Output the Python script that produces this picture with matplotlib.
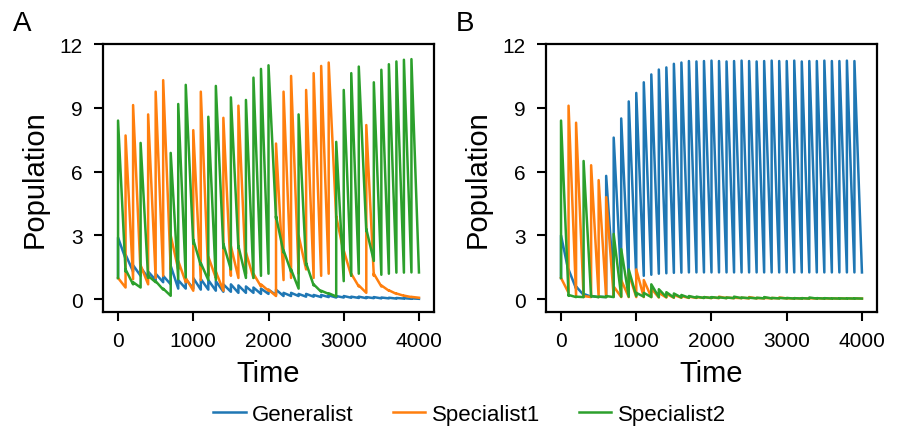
import numpy as np
import matplotlib
matplotlib.use("Agg")
import matplotlib.pyplot as plt

plt.rcParams.update({
    "font.family": ["Liberation Sans", "DejaVu Sans"],
    "axes.linewidth": 1.6,
    "xtick.major.width": 1.5,
    "ytick.major.width": 1.5,
    "xtick.major.size": 6.5,
    "ytick.major.size": 6.5,
    "xtick.major.pad": 7,
    "ytick.major.pad": 8,
    "xtick.labelsize": 15,
    "ytick.labelsize": 15,
    "axes.labelsize": 21,
})

# one transfer every 100 time units; each cycle: value before jump, value after jump
CYCLE_T = np.arange(0, 4001, 100)
COLORS = {"Generalist": "#1f77b4", "Specialist1": "#ff7f0e", "Specialist2": "#2ca02c"}

# ---- panel A ----
A_GEN_START = [1.0, 1.9, 1.3, 1.1, 1.0, 0.9, 0.8, 0.7, 0.5, 0.5, 0.5, 0.45, 0.45, 0.4,
               0.35, 0.35, 0.3, 0.3, 0.3, 0.25, 0.25, 0.2, 0.15, 0.15, 0.15, 0.12, 0.12,
               0.1, 0.1, 0.08, 0.08, 0.07, 0.06, 0.05, 0.05, 0.04, 0.04, 0.03, 0.03, 0.02, 0.02]
A_GEN_PEAK = [2.9, 2.1, 1.6, 1.5, 1.3, 1.2, 1.1, 1.57, 0.9, 0.95, 1.0, 0.95, 0.9, 0.85,
              0.7, 0.7, 0.65, 0.6, 0.55, 0.5, 0.45, 0.45, 0.3, 0.3, 0.25, 0.25, 0.2,
              0.2, 0.18, 0.15, 0.15, 0.12, 0.12, 0.1, 0.1, 0.08, 0.07, 0.06, 0.05, 0.04, 0.02]
A_SP1_START = [1.0, 0.55, 0.94, 1.2, 0.7, 1.0, 1.1, 1.4, 1.4, 0.8, 0.4, 0.9, 1.1, 1.0,
               0.4, 1.1, 1.0, 1.2, 1.0, 0.6, 0.4, 0.15, 0.9, 1.0, 1.2, 1.4, 1.0,
               1.1, 1.2, 3.8, 2.2, 1.1, 0.6, 0.3, 1.1, 0.6, 0.4, 0.25, 0.16, 0.1, 0.07]
A_SP1_PEAK = [1.0, 7.7, 9.13, 1.6, 8.69, 9.76, 10.3, 3.0, 1.8, 1.0, 7.95, 9.76, 2.0, 1.3,
              8.53, 2.5, 9.1, 2.2, 1.2, 0.7, 0.45, 7.32, 9.76, 10.5, 3.0, 9.84, 10.63,
              10.97, 11.13, 3.9, 2.3, 1.2, 0.65, 8.19, 1.2, 0.65, 0.42, 0.27, 0.17, 0.11, 0.07]
A_SP2_START = [1.0, 1.3, 0.7, 0.55, 1.0, 0.8, 0.45, 0.16, 0.94, 1.02, 2.6, 1.6, 0.9, 0.9,
               2.4, 1.4, 2.4, 1.0, 1.0, 1.1, 1.2, 3.8, 2.2, 1.3, 0.5, 1.6, 0.65,
               0.35, 0.25, 0.13, 0.85, 1.1, 1.2, 3.2, 1.8, 1.15, 1.2, 1.25, 1.25, 1.26, 1.26]
A_SP2_PEAK = [8.4, 1.4, 0.8, 7.35, 1.1, 0.85, 0.5, 6.88, 9.18, 10.08, 2.8, 1.7, 8.58, 10.03,
              2.6, 9.49, 2.5, 9.37, 10.42, 10.83, 11.0, 3.9, 2.3, 1.4, 8.69, 1.7, 0.7,
              0.4, 0.28, 7.4, 9.84, 10.63, 10.94, 3.3, 10.2, 10.79, 11.05, 11.18, 11.26, 11.29, 1.26]

# ---- panel B ----
B_GEN_START = [1.0, 1.3, 0.5, 0.2, 0.12, 0.1, 0.1, 0.7, 0.85, 0.95, 1.05, 1.1, 1.15, 1.2,
               1.22, 1.24, 1.25, 1.26, 1.26, 1.26, 1.26, 1.26, 1.26, 1.26, 1.26, 1.26, 1.26,
               1.26, 1.26, 1.26, 1.26, 1.26, 1.26, 1.26, 1.26, 1.26, 1.26, 1.26, 1.26, 1.26, 1.26]
B_GEN_PEAK = [3.0, 1.4, 0.6, 0.25, 0.15, 0.12, 5.8, 7.6, 8.5, 9.3, 9.7, 10.2, 10.57, 10.8,
              10.9, 11.07, 11.13, 11.2, 11.18, 11.2, 11.22, 11.2, 11.18, 11.2, 11.22, 11.2, 11.18,
              11.2, 11.22, 11.2, 11.2, 11.22, 11.18, 11.2, 11.2, 11.22, 11.2, 11.2, 11.22, 11.2, 1.26]
B_SP1_START = [1.0, 0.3, 0.15, 0.1, 0.1, 0.1, 0.1, 0.12, 0.1, 0.1, 0.1, 0.1, 0.1, 0.08,
               0.08, 0.07, 0.07, 0.06, 0.06, 0.06, 0.05, 0.05, 0.05, 0.05, 0.05, 0.04, 0.04,
               0.04, 0.04, 0.04, 0.04, 0.03, 0.03, 0.03, 0.03, 0.03, 0.03, 0.03, 0.03, 0.03, 0.03]
B_SP1_PEAK = [1.0, 9.1, 8.3, 0.15, 6.3, 5.6, 4.8, 0.6, 0.9, 1.2, 1.4, 0.9, 0.5, 0.3,
              0.25, 0.2, 0.15, 0.12, 0.1, 0.1, 0.09, 0.12, 0.08, 0.07, 0.07, 0.1, 0.06,
              0.06, 0.06, 0.08, 0.05, 0.05, 0.05, 0.05, 0.05, 0.04, 0.04, 0.04, 0.04, 0.04, 0.03]
B_SP2_START = [1.0, 0.16, 0.1, 0.1, 0.12, 0.1, 0.1, 0.1, 0.12, 0.12, 0.15, 0.12, 0.1, 0.1,
               0.1, 0.08, 0.08, 0.07, 0.07, 0.06, 0.06, 0.06, 0.05, 0.05, 0.05, 0.05, 0.04,
               0.04, 0.04, 0.04, 0.04, 0.03, 0.03, 0.03, 0.03, 0.03, 0.03, 0.03, 0.03, 0.03, 0.03]
B_SP2_PEAK = [8.4, 0.2, 0.12, 6.5, 0.15, 0.12, 0.15, 3.07, 2.36, 1.4, 0.3, 0.3, 0.7, 0.47,
              0.33, 0.27, 0.2, 0.15, 0.12, 0.1, 0.1, 0.09, 0.08, 0.12, 0.08, 0.07, 0.07,
              0.1, 0.06, 0.06, 0.06, 0.05, 0.05, 0.08, 0.05, 0.05, 0.04, 0.04, 0.04, 0.04, 0.03]

PANELS = [
    ("A", {"Generalist": (A_GEN_START, A_GEN_PEAK),
           "Specialist1": (A_SP1_START, A_SP1_PEAK),
           "Specialist2": (A_SP2_START, A_SP2_PEAK)}),
    ("B", {"Generalist": (B_GEN_START, B_GEN_PEAK),
           "Specialist1": (B_SP1_START, B_SP1_PEAK),
           "Specialist2": (B_SP2_START, B_SP2_PEAK)}),
]


def trace(start, peak):
    # jump at each transfer time, then decline until the next transfer
    t, y = [], []
    for k, tk in enumerate(CYCLE_T):
        t += [tk, tk]
        y += [start[k], peak[k]]
    return np.array(t), np.array(y)


fig = plt.figure(figsize=(8.98, 4.35), dpi=100)
ax_pos = [[0.1147, 0.2805, 0.3686, 0.616], [0.608, 0.2805, 0.3686, 0.616]]

for (letter, series), pos in zip(PANELS, ax_pos):
    ax = fig.add_axes(pos)
    for name, (st, pk) in series.items():
        t, y = trace(st, pk)
        ax.plot(t, y, color=COLORS[name], linewidth=1.8, label=name)
    ax.set_xlim(-200, 4200)
    ax.set_ylim(-0.6, 12)
    ax.set_xticks([0, 1000, 2000, 3000, 4000])
    ax.set_yticks([0, 3, 6, 9, 12])
    ax.set_xlabel("Time", labelpad=7)
    ax.set_ylabel("Population", labelpad=8)
    fig.text(pos[0] - 0.1, 0.945, letter, fontsize=20, ha="left", va="center")

handles, labels = ax.get_legend_handles_labels()
fig.legend(handles, labels, loc="center", bbox_to_anchor=(0.523, 0.045), ncol=3,
           frameon=False, fontsize=16, handlelength=1.45, handletextpad=0.3,
           columnspacing=1.75)

fig.savefig("out.png", dpi=100)
